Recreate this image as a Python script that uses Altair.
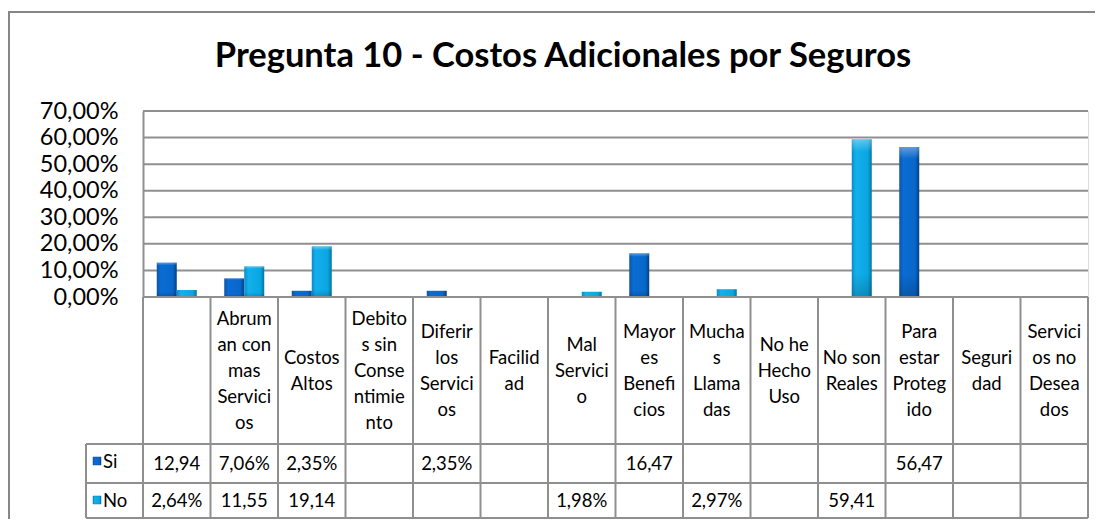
import altair as alt
import pandas as pd

# ---- data ----
title_text = "Pregunta 10 - Costos Adicionales por Seguros"
categories = ["", "Abruman con mas Servicios", "Costos Altos", "Debitos sin Consentimiento",
              "Diferir los Servicios", "Facilidad", "Mal Servicio", "Mayores Beneficios",
              "Muchas Llamadas", "No he Hecho Uso", "No son Reales", "Para estar Protegido",
              "Seguridad", "Servicios no Deseados"]
header_labels = ["", "Abrum\nan con\nmas\nServici\nos", "Costos\nAltos", "Debito\ns sin\nConse\nntimie\nnto",
                 "Diferir\nlos\nServici\nos", "Facilid\nad", "Mal\nServici\no", "Mayor\nes\nBenefi\ncios",
                 "Mucha\ns\nLlama\ndas", "No he\nHecho\nUso", "No son\nReales", "Para\nestar\nProteg\nido",
                 "Seguri\ndad", "Servici\nos no\nDesea\ndos"]
series = ["Si", "No"]
si_values = [12.94, 7.06, 2.35, None, 2.35, None, None, 16.47, None, None, None, 56.47, None, None]
no_values = [2.64, 11.55, 19.14, None, None, None, 1.98, None, 2.97, None, 59.41, None, None, None]
si_labels = ["12,94", "7,06%", "2,35%", "", "2,35%", "", "", "16,47", "", "", "", "56,47", "", ""]
no_labels = ["2,64%", "11,55", "19,14", "", "", "", "1,98%", "", "2,97%", "", "59,41", "", "", ""]
y_ticks = [0, 10, 20, 30, 40, 50, 60, 70]

idx = list(range(len(categories)))
rows = []
for i in idx:
    if si_values[i] is not None:
        rows.append({"idx": i, "series": "Si", "value": si_values[i]})
    if no_values[i] is not None:
        rows.append({"idx": i, "series": "No", "value": no_values[i]})
bars_df = pd.DataFrame(rows)
cat_df = pd.DataFrame({"idx": idx, "cat": categories, "header": header_labels,
                       "si": si_labels, "no": no_labels})
one = pd.DataFrame({"t": [title_text]})
legend_df = pd.DataFrame({"series": series})
tick_df = pd.DataFrame({"value": y_ticks})

FONT = "Lato"
GRID = "#8f8f8f"
W, H = 945, 186
LINE_H = 26

si_grad = alt.LinearGradient(gradient="linear", x1=0, x2=1, y1=0, y2=0, stops=[
    alt.GradientStop(color="#0a55a6", offset=0), alt.GradientStop(color="#0a6cd4", offset=0.2),
    alt.GradientStop(color="#0867c9", offset=0.8), alt.GradientStop(color="#033f86", offset=1)])
no_grad = alt.LinearGradient(gradient="linear", x1=0, x2=1, y1=0, y2=0, stops=[
    alt.GradientStop(color="#0a8cc6", offset=0), alt.GradientStop(color="#12b0ec", offset=0.2),
    alt.GradientStop(color="#0aa6e2", offset=0.8), alt.GradientStop(color="#05759f", offset=1)])
shade = alt.LinearGradient(gradient="linear", x1=0, x2=0, y1=0, y2=1, stops=[
    alt.GradientStop(color="rgba(255,255,255,0.35)", offset=0),
    alt.GradientStop(color="rgba(255,255,255,0)", offset=0.08),
    alt.GradientStop(color="rgba(0,0,0,0)", offset=0.85),
    alt.GradientStop(color="rgba(0,0,0,0.18)", offset=1)])

xscale = alt.Scale(domain=idx, paddingInner=0, paddingOuter=0)
xenc = alt.X("idx:O", scale=xscale, axis=None)
xoff = alt.XOffset("series:N", scale=alt.Scale(domain=series, paddingInner=0, paddingOuter=0.6875))
yscale = alt.Scale(domain=[0, 70], nice=False, zero=True)
yaxis = alt.Axis(values=y_ticks, title=None, grid=False,
                 domainColor=GRID, domainWidth=2, ticks=False, labelPadding=25,
                 labelOverlap=False, labelBound=False, labelFlush=False,
                 labelFont=FONT, labelFontSize=23.5, labelColor="black",
                 labelExpr="replace(format(datum.value, '.2f'), '.', ',') + '%'")
yenc = alt.Y("value:Q", scale=yscale, axis=yaxis)

border = alt.Chart(one).mark_rect(fillOpacity=0, stroke="#878787", strokeWidth=2).encode(
    x=alt.value(-134), x2=alt.value(1000), y=alt.value(-99), y2=alt.value(500))

gridlines = alt.Chart(tick_df).mark_rule(color=GRID, strokeWidth=2).encode(
    y=yenc, x=alt.value(0), x2=alt.value(W))

bars_si = alt.Chart(bars_df).transform_filter("datum.series == 'Si'").mark_bar(color=si_grad).encode(
    x=xenc, xOffset=xoff, y=yenc)
bars_no = alt.Chart(bars_df).transform_filter("datum.series == 'No'").mark_bar(color=no_grad).encode(
    x=xenc, xOffset=xoff, y=yenc)
bars_shade = alt.Chart(bars_df).mark_bar(color=shade).encode(x=xenc, xOffset=xoff, y=yenc)

def hrule(y, x0):
    return alt.Chart(one).mark_rule(color=GRID, strokeWidth=2).encode(
        x=alt.value(x0), x2=alt.value(W), y=alt.value(y))

hlines = [hrule(H, 0), hrule(333, -57), hrule(372, -57), hrule(407, -57)]
vlines = alt.Chart(cat_df).mark_rule(color=GRID, strokeWidth=2).encode(
    x=alt.X("idx:O", bandPosition=0, scale=xscale, axis=None), y=alt.value(H), y2=alt.value(407))
vright = alt.Chart(one).mark_rule(color=GRID, strokeWidth=2).encode(
    x=alt.value(W), y=alt.value(H), y2=alt.value(407))
vleft = alt.Chart(one).mark_rule(color=GRID, strokeWidth=2).encode(
    x=alt.value(-57), y=alt.value(333), y2=alt.value(407))

header = alt.Chart(cat_df).transform_calculate(
    ypix=f"260 - (length(split(datum.header, '\\n')) - 1) * {LINE_H / 2}"
).mark_text(font=FONT, fontSize=18.5, lineBreak="\n", lineHeight=LINE_H,
            baseline="middle", align="center", color="black").encode(
    x=xenc, y=alt.Y("ypix:Q", scale=None, axis=None), text="header:N")
si_text = alt.Chart(cat_df).mark_text(font=FONT, fontSize=18.5, baseline="middle", align="center",
                                      color="black").encode(x=xenc, y=alt.value(352.5), text="si:N")
no_text = alt.Chart(cat_df).mark_text(font=FONT, fontSize=18.5, baseline="middle", align="center",
                                      color="black").encode(x=xenc, y=alt.value(390), text="no:N")

key_si = alt.Chart(legend_df).transform_filter("datum.series == 'Si'").mark_rect(
    color=si_grad, stroke="#1d4f90", strokeWidth=0.5).encode(
    x=alt.value(-50), x2=alt.value(-42), y=alt.value(346), y2=alt.value(354))
key_no = alt.Chart(legend_df).transform_filter("datum.series == 'No'").mark_rect(
    color=no_grad, stroke="#0a78a8", strokeWidth=0.5).encode(
    x=alt.value(-50), x2=alt.value(-42), y=alt.value(385), y2=alt.value(393))
leg_si = alt.Chart(legend_df).transform_filter("datum.series == 'Si'").mark_text(
    font=FONT, fontSize=18.5, align="left", baseline="middle", color="black").encode(
    x=alt.value(-40), y=alt.value(351), text="series:N")
leg_no = alt.Chart(legend_df).transform_filter("datum.series == 'No'").mark_text(
    font=FONT, fontSize=18.5, align="left", baseline="middle", color="black").encode(
    x=alt.value(-40), y=alt.value(390), text="series:N")

title = alt.Chart(one).mark_text(font=FONT, fontSize=34.5, fontWeight="bold", align="center",
                                 baseline="middle", color="black").encode(
    x=alt.value(420), y=alt.value(-54), text="t:N")

chart = alt.layer(border, gridlines, bars_si, bars_no, bars_shade, *hlines, vlines, vright, vleft,
                  header, si_text, no_text, key_si, key_no, leg_si, leg_no, title).properties(
    width=W, height=H,
    padding={"left": 135, "top": 103, "right": 7, "bottom": 222},
    autosize=alt.AutoSizeParams(type="none"),
).configure_view(stroke=None).configure(background="white")

chart.save("out.html", embed_options={"renderer": "svg", "actions": False})
